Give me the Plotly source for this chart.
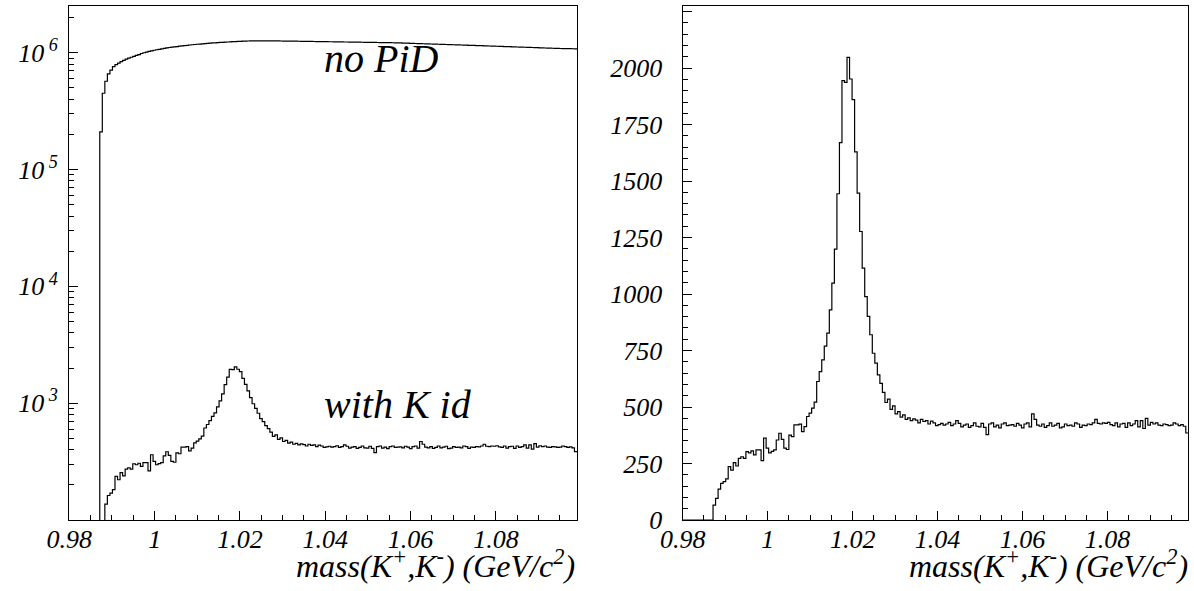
import numpy as np
import plotly.graph_objects as go

# ---- data ----
mass_min = 0.98
mass_max = 1.099

no_pid = [
    0, 0, 0, 0, 0, 0, 0, 0, 0, 0,
    0, 0, 210000, 450000, 570000, 660000, 710000, 760000, 790000, 815000,
    840000, 860000, 880000, 900000, 915000, 930000, 948000, 965000, 985000, 1000000,
    1012000, 1025000, 1038000, 1050000, 1060000, 1070000, 1080000, 1090000, 1100000, 1108000,
    1115000, 1122000, 1130000, 1138000, 1145000, 1152000, 1158000, 1165000, 1170000, 1176000,
    1182000, 1187000, 1192000, 1197000, 1202000, 1207000, 1212000, 1216000, 1220000, 1224000,
    1228000, 1232000, 1236000, 1240000, 1243000, 1247000, 1250000, 1253000, 1256000, 1258000,
    1260000, 1262000, 1263000, 1264000, 1265000, 1265000, 1265000, 1264000, 1264000, 1263000,
    1262000, 1262000, 1261000, 1260000, 1259000, 1258000, 1258000, 1257000, 1256000, 1255000,
    1254000, 1253000, 1252000, 1251000, 1250000, 1249000, 1248000, 1247000, 1246000, 1245000,
    1244000, 1243000, 1242000, 1241000, 1240000, 1239000, 1238000, 1237000, 1236000, 1235000,
    1234000, 1233000, 1232000, 1231000, 1230000, 1229000, 1228000, 1227000, 1226000, 1225000,
    1224000, 1223000, 1222000, 1221000, 1220000, 1219000, 1218000, 1217000, 1216000, 1214000,
    1212000, 1210000, 1208000, 1206000, 1204000, 1202000, 1200000, 1198000, 1196000, 1194000,
    1192000, 1190000, 1188000, 1186000, 1184000, 1182000, 1180000, 1178000, 1176000, 1174000,
    1172000, 1170000, 1168000, 1166000, 1164000, 1162000, 1160000, 1158000, 1156000, 1154000,
    1152000, 1150000, 1148000, 1146000, 1144000, 1142000, 1140000, 1138000, 1136000, 1134000,
    1132000, 1130000, 1128000, 1126000, 1124000, 1122000, 1120000, 1118000, 1116000, 1114000,
    1112000, 1110000, 1108000, 1106000, 1104000, 1102000, 1100000, 1098000, 1096000, 1094000,
    1092000, 1090000, 1088000, 1087000, 1086000, 1085000, 1084000, 1083000, 1082000, 1081000,
]

with_k_id = [
    0, 0, 0, 0, 0, 0, 0, 0, 0, 0,
    0, 0, 66, 96, 137, 162, 170, 182, 236, 221,
    254, 239, 273, 280, 273, 303, 297, 306, 288, 310,
    310, 263, 362, 318, 297, 304, 310, 354, 384, 357,
    318, 312, 376, 369, 421, 421, 424, 391, 413, 458,
    473, 495, 522, 613, 657, 709, 770, 827, 930, 1048,
    1199, 1444, 1670, 1945, 1937, 2048, 1952, 1861, 1629, 1447,
    1277, 1115, 989, 901, 820, 738, 694, 642, 605, 565,
    520, 535, 490, 505, 470, 480, 455, 465, 445, 452,
    440, 448, 442, 430, 445, 436, 440, 425, 438, 430,
    418, 422, 428, 420, 425, 432, 418, 425, 440, 428,
    412, 420, 425, 410, 418, 430, 415, 412, 428, 410,
    378, 425, 430, 412, 420, 408, 425, 430, 418, 420,
    422, 415, 428, 420, 408, 425, 430, 412, 470, 445,
    420, 415, 425, 410, 418, 430, 415, 420, 428, 408,
    412, 425, 418, 420, 415, 430, 425, 410, 420, 418,
    425, 422, 430, 445, 428, 425, 430, 428, 432, 422,
    418, 430, 412, 425, 428, 410, 430, 418, 425, 440,
    412, 440, 405, 450, 420, 432, 425, 430, 420, 418,
    425, 422, 418, 420, 430, 425, 418, 422, 415, 385,
]

x_ticks = [0.98, 1.0, 1.02, 1.04, 1.06, 1.08]
x_tick_labels = ["0.98", "1", "1.02", "1.04", "1.06", "1.08"]
log_ticks = [1e3, 1e4, 1e5, 1e6]
log_tick_labels = ["10<sup> 3</sup>", "10<sup> 4</sup>", "10<sup> 5</sup>", "10<sup> 6</sup>"]
lin_ticks = [0, 250, 500, 750, 1000, 1250, 1500, 1750, 2000, 2250]

# ---- build step outlines ----
n_bins = len(with_k_id)
edges = np.linspace(mass_min, mass_max, n_bins + 1)


def step(vals, floor=None):
    v = np.array(vals, dtype=float)
    if floor is not None:
        v = np.where(v > 0, v, floor)
    return edges, np.append(v, v[-1])


W, H = 1194, 591
FONT = "Liberation Serif, Times New Roman, serif"

fig = go.Figure()

line = dict(shape="hv", color="black", width=1.2)
xs, ys = step(no_pid, floor=1e-3)
fig.add_trace(go.Scatter(x=xs, y=ys, mode="lines", line=line,
                         xaxis="x", yaxis="y", showlegend=False, hoverinfo="skip"))
xs, ys = step(with_k_id, floor=1e-3)
fig.add_trace(go.Scatter(x=xs, y=ys, mode="lines", line=line,
                         xaxis="x", yaxis="y", showlegend=False, hoverinfo="skip"))
xs, ys = step(with_k_id)
fig.add_trace(go.Scatter(x=xs, y=ys, mode="lines", line=line,
                         xaxis="x2", yaxis="y2", showlegend=False, hoverinfo="skip"))

tickfont = dict(family=FONT, size=26, color="black", style="italic")

xcommon = dict(range=[mass_min, mass_max], showline=True, linecolor="black", linewidth=1.3, mirror=True,
               ticks="inside", ticklen=9, tickwidth=1, tickcolor="black",
               tickvals=x_ticks, ticktext=x_tick_labels, tickfont=tickfont,
               minor=dict(ticks="inside", ticklen=5, dtick=0.005, tick0=0.98, tickcolor="black", showgrid=False),
               showgrid=False, zeroline=False, ticklabelstandoff=-4, automargin=False, fixedrange=True)

dom_y = [(H - 520) / H, (H - 6) / H]

minor_log = [k * 10 ** e for e in range(2, 7) for k in range(2, 10) if k * 10 ** e < 2.5e6]

fig.update_layout(
    width=W, height=H, margin=dict(l=0, r=0, t=0, b=0, autoexpand=False),
    paper_bgcolor="white", plot_bgcolor="white",
    font=dict(family=FONT, color="black"),
    xaxis=dict(domain=[69.3 / W, 577 / W], anchor="y", **xcommon),
    xaxis2=dict(domain=[682.7 / W, 1188.3 / W], anchor="y2", **xcommon),
    yaxis=dict(domain=dom_y, anchor="x", type="log", range=[2, 6.4],
               showline=True, linecolor="black", linewidth=1.3, mirror=True,
               ticks="inside", ticklen=9, tickcolor="black",
               tickvals=log_ticks, ticktext=log_tick_labels, tickfont=tickfont,
               minor=dict(ticks="inside", ticklen=5, tickvals=minor_log, tickcolor="black", showgrid=False),
               showgrid=False, zeroline=False, ticklabelstandoff=5, automargin=False, fixedrange=True),
    yaxis2=dict(domain=dom_y, anchor="x2", range=[0, 2275],
                showline=True, linecolor="black", linewidth=1.3, mirror=True,
                ticks="inside", ticklen=9, tickcolor="black",
                tickvals=lin_ticks, tickfont=tickfont,
                minor=dict(ticks="inside", ticklen=5, dtick=50, tick0=0, tickcolor="black", showgrid=False),
                showgrid=False, zeroline=False, ticklabelstandoff=14, automargin=False, fixedrange=True),
)

title_text = "mass(K<sup>+</sup>,K<sup>-</sup>) (GeV/c<sup>2</sup>)"
for xr in (577, 1190):
    fig.add_annotation(x=xr / W, y=(H - 564) / H, xref="paper", yref="paper", text=title_text,
                       showarrow=False, xanchor="right", yanchor="middle",
                       font=dict(family=FONT, size=32, color="black", style="italic"))

fig.add_annotation(x=322 / W, y=(H - 58) / H, xref="paper", yref="paper", text="no PiD",
                   showarrow=False, xanchor="left", yanchor="middle",
                   font=dict(family=FONT, size=40, color="black", style="italic"))
fig.add_annotation(x=322 / W, y=(H - 405) / H, xref="paper", yref="paper", text="with K id",
                   showarrow=False, xanchor="left", yanchor="middle",
                   font=dict(family=FONT, size=40, color="black", style="italic"))

fig.write_html("out.html")
